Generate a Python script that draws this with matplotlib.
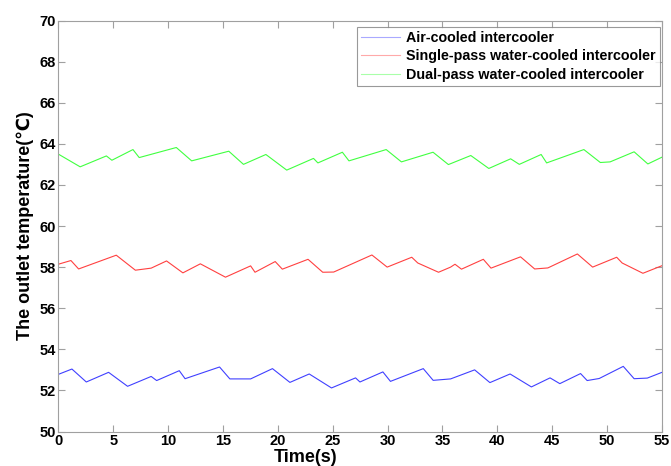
import matplotlib
matplotlib.use("Agg")
import matplotlib.pyplot as plt

plt.rcParams['font.family'] = ['Liberation Sans', 'DejaVu Sans']
plt.rcParams['font.weight'] = 'bold'

# outlet temperature traces, breakpoints (time in s, temperature in degC)
air_t = [0, 1.24, 2.55, 4.58, 6.31, 8.46, 8.96, 11.02, 11.55, 14.69, 15.63,
         17.52, 19.51, 21.1, 22.86, 24.89, 27.08, 27.48, 29.57, 30.26, 33.25,
         34.15, 35.74, 37.93, 39.32, 41.16, 43.1, 44.8, 45.69, 47.58, 48.18,
         49.28, 51.47, 52.46, 53.66, 55]
air_v = [52.78, 53.04, 52.41, 52.88, 52.2, 52.68, 52.48, 52.96, 52.57, 53.14,
         52.56, 52.56, 53.06, 52.39, 52.8, 52.12, 52.61, 52.41, 52.9, 52.44,
         53.06, 52.49, 52.56, 53.0, 52.38, 52.8, 52.17, 52.61, 52.33, 52.82,
         52.48, 52.58, 53.17, 52.57, 52.6, 52.88]

single_t = [0, 1.15, 1.85, 5.28, 7.02, 8.46, 9.86, 11.35, 12.94, 15.23,
            17.52, 17.92, 19.76, 20.41, 22.75, 24.09, 25.09, 28.57, 29.96,
            32.2, 32.75, 34.64, 35.74, 36.14, 36.73, 38.72, 39.42, 42.11,
            43.4, 44.6, 47.29, 48.68, 50.87, 51.37, 53.26, 55]
single_v = [58.14, 58.32, 57.91, 58.58, 57.85, 57.95, 58.3, 57.72, 58.16,
            57.51, 58.06, 57.75, 58.27, 57.9, 58.38, 57.75, 57.76, 58.59,
            58.0, 58.48, 58.2, 57.75, 58.0, 58.14, 57.9, 58.38, 57.95, 58.5,
            57.91, 57.96, 58.64, 58.0, 58.48, 58.2, 57.7, 58.07]

dual_t = [0, 1.99, 4.38, 4.88, 6.8, 7.37, 10.75, 12.15, 15.53, 16.87, 18.91,
          20.81, 23.25, 23.65, 25.88, 26.48, 29.87, 31.26, 34.14, 35.54,
          37.58, 39.22, 41.21, 42.0, 43.99, 44.49, 47.88, 49.38, 50.27,
          52.46, 53.71, 55]
dual_v = [63.5, 62.88, 63.41, 63.2, 63.72, 63.33, 63.82, 63.17, 63.64, 63.0,
          63.48, 62.72, 63.29, 63.07, 63.59, 63.17, 63.72, 63.12, 63.59, 62.99,
          63.43, 62.8, 63.27, 63.0, 63.48, 63.07, 63.72, 63.09, 63.12, 63.61,
          63.02, 63.35]

labels = ["Air-cooled intercooler",
          "Single-pass water-cooled intercooler",
          "Dual-pass water-cooled intercooler"]
x_ticks = list(range(0, 56, 5))
y_ticks = list(range(50, 71, 2))

fig = plt.figure(figsize=(6.71, 4.66), dpi=100)
ax = fig.add_axes([0.0869, 0.074, 0.8997, 0.882])

ax.plot(air_t, air_v, color='#4040ff', lw=0.8, label=labels[0])
ax.plot(single_t, single_v, color='#ff4040', lw=0.8, label=labels[1])
ax.plot(dual_t, dual_v, color='#40ff40', lw=0.8, label=labels[2])

ax.set_xlim(0, 55)
ax.set_ylim(50, 70)
ax.set_xticks(x_ticks)
ax.set_yticks(y_ticks)
ax.tick_params(direction='in', top=True, right=True, length=5,
               color='#a0a0a0', labelsize=10.5, pad=2)
for s in ax.spines.values():
    s.set_color('#a0a0a0')
for lab in ax.get_xticklabels() + ax.get_yticklabels():
    lab.set_fontweight('bold')

ax.set_xlabel("Time(s)", fontsize=13, fontweight='bold', labelpad=0)
ax.xaxis.set_label_coords(0.41, -0.042)
ax.set_ylabel("The outlet temperature(℃)", fontsize=13, fontweight='bold',
              labelpad=4)

leg = ax.legend(loc='upper right', bbox_to_anchor=(0.997, 0.985),
                fontsize=10.3, frameon=True, fancybox=False,
                borderaxespad=0, handlelength=2.7, handletextpad=0.45,
                labelspacing=0.3, borderpad=0.3)
leg.get_frame().set_edgecolor('#808080')
leg.get_frame().set_linewidth(0.8)
for line in leg.get_lines():
    line.set_alpha(0.45)
for txt in leg.get_texts():
    txt.set_fontweight('bold')

fig.savefig('out.png', dpi=100)
